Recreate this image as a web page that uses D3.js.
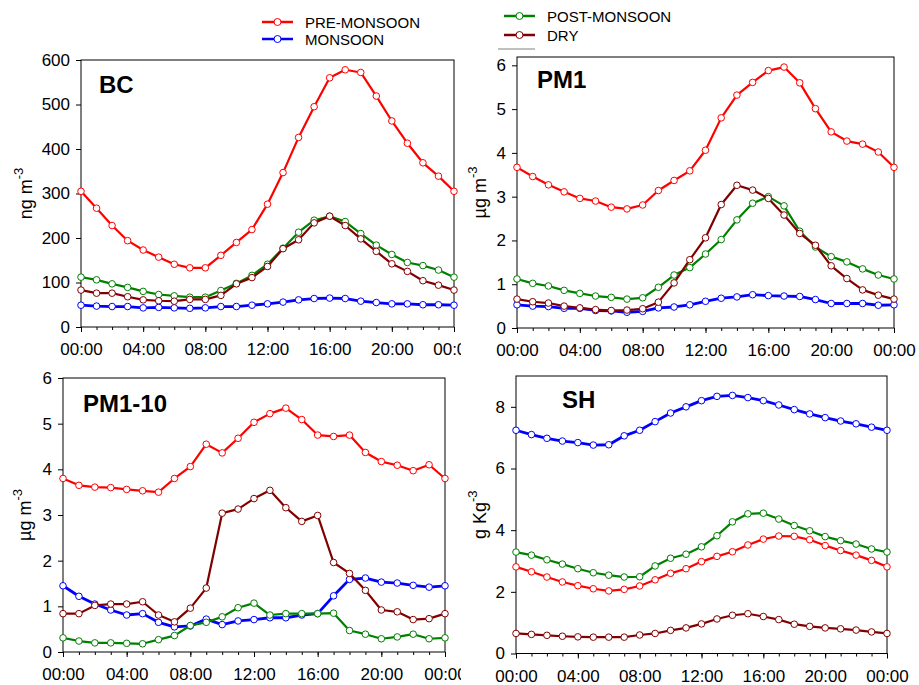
<!DOCTYPE html>
<html>
<head>
<meta charset="utf-8">
<script src="https://cdn.jsdelivr.net/npm/d3@7"></script>
<style>
  body { margin: 0; background: #fff; }
  svg { font-family: "Liberation Sans", Arial, sans-serif; }
  .tick text { font-size: 17px; fill: #000; }
  .tick line { stroke: #000; }
</style>
</head>
<body>
<svg id="chart" width="919" height="685"></svg>
<script>
// hours of the day, 00:00 to 24:00
const hours = d3.range(0, 25);
const seasons = ['PRE-MONSOON', 'MONSOON', 'POST-MONSOON', 'DRY'];

// BC (ng m-3)
const bcPre = [305, 267, 228, 194, 173, 157, 141, 133, 133, 161, 190, 219, 276, 347, 426, 495, 560, 578, 572, 519, 463, 413, 369, 339, 305];
const bcMon = [49, 47, 46, 46, 43, 44, 43, 42, 43, 46, 46, 49, 52, 56, 61, 64, 65, 64, 58, 55, 52, 52, 50, 50, 49];
const bcPost = [112, 106, 97, 89, 80, 73, 70, 67, 67, 82, 98, 116, 141, 177, 213, 240, 249, 237, 210, 184, 163, 145, 138, 128, 112];
const bcDry = [83, 76, 76, 68, 61, 59, 58, 62, 62, 71, 97, 111, 136, 176, 196, 234, 249, 228, 198, 170, 142, 125, 104, 94, 83];

// PM1 (ug m-3)
const pm1Pre = [3.67, 3.46, 3.27, 3.11, 2.96, 2.90, 2.76, 2.72, 2.81, 3.14, 3.37, 3.59, 4.06, 4.80, 5.32, 5.61, 5.88, 5.96, 5.60, 5.01, 4.48, 4.27, 4.20, 4.02, 3.67];
const pm1Mon = [0.53, 0.50, 0.49, 0.45, 0.45, 0.40, 0.39, 0.36, 0.38, 0.46, 0.48, 0.53, 0.61, 0.68, 0.71, 0.76, 0.74, 0.73, 0.72, 0.65, 0.56, 0.56, 0.56, 0.52, 0.53];
const pm1Post = [1.12, 1.02, 0.96, 0.86, 0.79, 0.73, 0.70, 0.66, 0.69, 0.93, 1.21, 1.38, 1.69, 2.02, 2.47, 2.85, 3.00, 2.79, 2.21, 1.85, 1.63, 1.51, 1.35, 1.21, 1.12];
const pm1Dry = [0.66, 0.60, 0.57, 0.50, 0.46, 0.42, 0.40, 0.41, 0.44, 0.59, 1.03, 1.56, 2.06, 2.82, 3.26, 3.15, 2.96, 2.58, 2.16, 1.89, 1.42, 1.13, 0.87, 0.75, 0.66];

// PM1-10 (ug m-3)
const pm10Pre = [3.80, 3.65, 3.61, 3.60, 3.56, 3.53, 3.50, 3.80, 4.06, 4.55, 4.36, 4.68, 5.03, 5.22, 5.34, 5.09, 4.75, 4.72, 4.75, 4.37, 4.17, 4.09, 3.97, 4.10, 3.80];
const pm10Mon = [1.45, 1.22, 1.05, 0.92, 0.81, 0.84, 0.65, 0.55, 0.57, 0.72, 0.60, 0.68, 0.71, 0.75, 0.75, 0.81, 0.84, 1.23, 1.59, 1.62, 1.53, 1.51, 1.46, 1.42, 1.45];
const pm10Post = [0.31, 0.24, 0.20, 0.20, 0.19, 0.18, 0.27, 0.36, 0.58, 0.65, 0.77, 0.97, 1.07, 0.81, 0.84, 0.84, 0.84, 0.85, 0.47, 0.39, 0.29, 0.33, 0.39, 0.29, 0.31];
const pm10Dry = [0.84, 0.84, 1.02, 1.05, 1.05, 1.10, 0.81, 0.66, 0.96, 1.40, 3.04, 3.13, 3.36, 3.54, 3.16, 2.86, 2.99, 1.96, 1.72, 1.35, 0.92, 0.88, 0.71, 0.73, 0.84];

// SH (g Kg-3)
const shPre = [2.81, 2.65, 2.48, 2.32, 2.20, 2.10, 2.03, 2.08, 2.19, 2.39, 2.60, 2.75, 2.98, 3.15, 3.30, 3.52, 3.71, 3.81, 3.80, 3.69, 3.50, 3.34, 3.19, 3.02, 2.81];
const shMon = [7.24, 7.10, 6.98, 6.89, 6.84, 6.76, 6.77, 7.06, 7.24, 7.52, 7.80, 8.00, 8.20, 8.34, 8.37, 8.30, 8.20, 8.06, 7.91, 7.77, 7.65, 7.54, 7.45, 7.34, 7.24];
const shPost = [3.29, 3.19, 3.04, 2.90, 2.75, 2.62, 2.54, 2.48, 2.49, 2.84, 3.09, 3.22, 3.46, 3.82, 4.27, 4.53, 4.55, 4.36, 4.15, 3.98, 3.79, 3.66, 3.55, 3.39, 3.29];
const shDry = [0.65, 0.62, 0.59, 0.56, 0.54, 0.53, 0.53, 0.53, 0.60, 0.65, 0.75, 0.83, 0.96, 1.12, 1.24, 1.29, 1.20, 1.10, 0.95, 0.88, 0.83, 0.80, 0.76, 0.70, 0.65];

const colors = {
    'PRE-MONSOON': '#ff0000',
    'MONSOON': '#0000ff',
    'POST-MONSOON': '#008000',
    'DRY': '#800000'
};
// draw order, last on top
const drawOrder = ['MONSOON', 'POST-MONSOON', 'DRY', 'PRE-MONSOON'];

const panels = [
    { title: 'BC', unit: 'ng m', sup: '-3', ymax: 600, yticks: d3.range(0, 601, 100),
      box: { l: 81, r: 454, t: 60, b: 327 }, titlePos: [99, 93], labelX: 32, clipR: 461,
      data: { 'PRE-MONSOON': bcPre, 'MONSOON': bcMon, 'POST-MONSOON': bcPost, 'DRY': bcDry } },
    { title: 'PM1', unit: 'µg m', sup: '-3', ymax: 6.19, yticks: d3.range(0, 7),
      box: { l: 517, r: 894, t: 57, b: 328 }, titlePos: [537, 88], labelX: 486, clipR: 919,
      data: { 'PRE-MONSOON': pm1Pre, 'MONSOON': pm1Mon, 'POST-MONSOON': pm1Post, 'DRY': pm1Dry } },
    { title: 'PM1-10', unit: 'µg m', sup: '-3', ymax: 6, yticks: d3.range(0, 7),
      box: { l: 63, r: 445, t: 378, b: 652 }, titlePos: [83, 412], labelX: 31, clipR: 461,
      data: { 'PRE-MONSOON': pm10Pre, 'MONSOON': pm10Mon, 'POST-MONSOON': pm10Post, 'DRY': pm10Dry } },
    { title: 'SH', unit: 'g Kg', sup: '-3', ymax: 9, yticks: [0, 2, 4, 6, 8],
      box: { l: 516, r: 887, t: 376, b: 653.5 }, titlePos: [562, 408], labelX: 486, clipR: 919,
      data: { 'PRE-MONSOON': shPre, 'MONSOON': shMon, 'POST-MONSOON': shPost, 'DRY': shDry } }
];

const svg = d3.select('#chart');

function hourLabel(h) {
    return String(h % 24).padStart(2, '0') + ':00';
}

panels.forEach((p, i) => {
    const clipId = 'clip' + i;
    svg.append('clipPath').attr('id', clipId)
        .append('rect').attr('x', p.clipR - 461).attr('y', 0)
        .attr('width', 461).attr('height', 685);

    const g = svg.append('g').attr('clip-path', `url(#${clipId})`);

    const x = d3.scaleLinear().domain([0, 24]).range([p.box.l, p.box.r]);
    const y = d3.scaleLinear().domain([0, p.ymax]).range([p.box.b, p.box.t]);

    // minor hour ticks
    g.append('g')
        .attr('transform', `translate(0,${p.box.b})`)
        .call(d3.axisBottom(x).tickValues(hours).tickSize(3).tickFormat(''))
        .call(a => a.select('.domain').remove());

    g.append('g')
        .attr('transform', `translate(0,${p.box.b})`)
        .call(d3.axisBottom(x).tickValues(d3.range(0, 25, 4)).tickSize(5).tickPadding(11).tickFormat(hourLabel))
        .call(a => a.select('.domain').remove());

    g.append('g')
        .attr('transform', `translate(${p.box.l},0)`)
        .call(d3.axisLeft(y).tickValues(p.yticks).tickSize(5).tickPadding(6).tickFormat(d3.format('d')))
        .call(a => a.select('.domain').remove());

    // frame
    g.append('rect')
        .attr('x', p.box.l).attr('y', p.box.t)
        .attr('width', p.box.r - p.box.l).attr('height', p.box.b - p.box.t)
        .attr('fill', 'none').attr('stroke', '#000').attr('stroke-width', 1);

    const line = d3.line().x((d, j) => x(hours[j])).y(d => y(d));

    drawOrder.forEach(s => {
        const vals = p.data[s];
        g.append('path')
            .datum(vals)
            .attr('d', line)
            .attr('fill', 'none')
            .attr('stroke', colors[s])
            .attr('stroke-width', s === 'MONSOON' ? 2.8 : 2.2)
            .attr('stroke-linejoin', 'round');
        g.selectAll(null)
            .data(vals)
            .join('circle')
            .attr('cx', (d, j) => x(hours[j]))
            .attr('cy', d => y(d))
            .attr('r', 3.3)
            .attr('fill', '#fff')
            .attr('stroke', colors[s])
            .attr('stroke-width', 1);
    });

    // panel title
    g.append('text')
        .attr('x', p.titlePos[0]).attr('y', p.titlePos[1])
        .attr('font-size', 24).attr('font-weight', 'bold')
        .text(p.title);

    // y axis label
    const lab = g.append('text')
        .attr('transform', `translate(${p.labelX},${(p.box.t + p.box.b) / 2}) rotate(-90)`)
        .attr('text-anchor', 'middle')
        .attr('font-size', 18);
    lab.append('tspan').text(p.unit);
    lab.append('tspan').attr('font-size', 13).attr('dy', -9).text(p.sup);
});

// legends
const legendItems = [
    { s: 'PRE-MONSOON', x: 262, y: 22 },
    { s: 'MONSOON', x: 262, y: 39 },
    { s: 'POST-MONSOON', x: 504, y: 16 },
    { s: 'DRY', x: 504, y: 35 }
];
const leg = svg.append('g');
legendItems.forEach(it => {
    leg.append('line')
        .attr('x1', it.x).attr('x2', it.x + 31)
        .attr('y1', it.y).attr('y2', it.y)
        .attr('stroke', colors[it.s]).attr('stroke-width', 2.5);
    leg.append('circle')
        .attr('cx', it.x + 15.5).attr('cy', it.y).attr('r', 3.5)
        .attr('fill', '#fff').attr('stroke', colors[it.s]).attr('stroke-width', 1);
    leg.append('text')
        .attr('x', it.x + 43).attr('y', it.y + 5.5)
        .attr('font-size', 15)
        .text(it.s);
});
leg.append('line')
    .attr('x1', 498).attr('x2', 535).attr('y1', 49).attr('y2', 49)
    .attr('stroke', '#808080').attr('stroke-width', 1);
</script>
</body>
</html>
